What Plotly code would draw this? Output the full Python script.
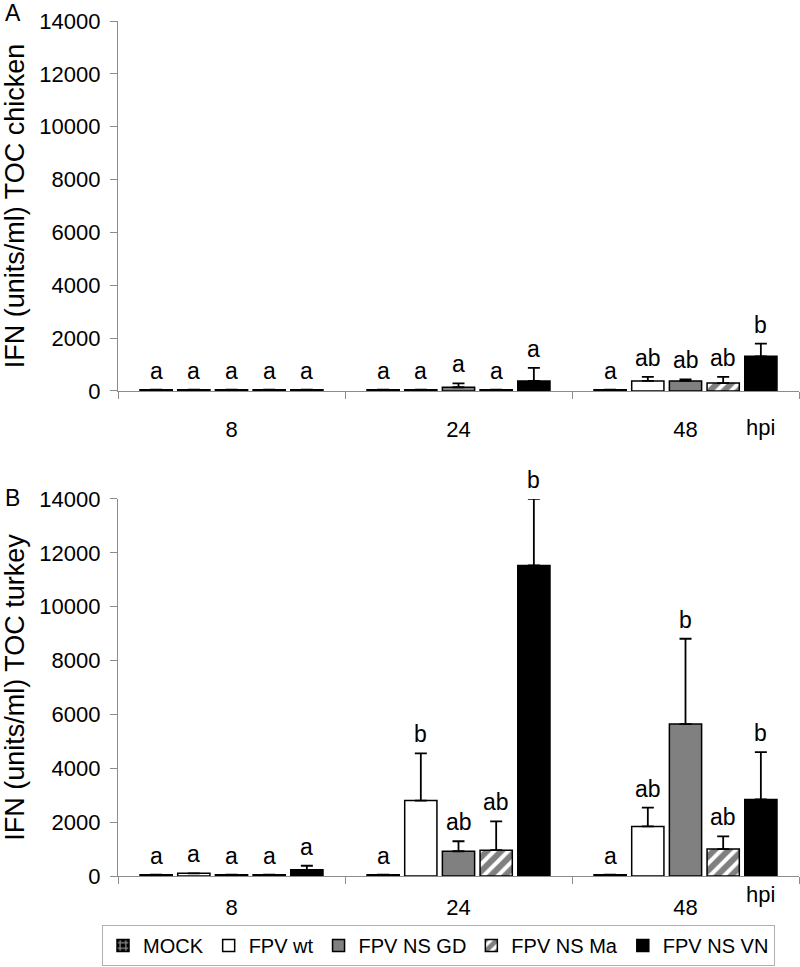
import plotly.graph_objects as go

# ---------------- data ----------------
hours = ["8", "24", "48"]
series = ["MOCK", "FPV wt", "FPV NS GD", "FPV NS Ma", "FPV NS VN"]

# Panel A: TOC chicken
chicken_mock = [50, 50, 50]
chicken_wt = [50, 50, 380]
chicken_gd = [50, 140, 380]
chicken_ma = [50, 50, 300]
chicken_vn = [50, 380, 1310]
chicken_mock_err = [0, 0, 0]
chicken_wt_err = [0, 0, 150]
chicken_gd_err = [0, 150, 60]
chicken_ma_err = [0, 0, 230]
chicken_vn_err = [0, 490, 480]
chicken_mock_lbl = ["a", "a", "a"]
chicken_wt_lbl = ["a", "a", "ab"]
chicken_gd_lbl = ["a", "a", "ab"]
chicken_ma_lbl = ["a", "a", "ab"]
chicken_vn_lbl = ["a", "a", "b"]

# Panel B: TOC turkey
turkey_mock = [50, 50, 50]
turkey_wt = [100, 2800, 1840]
turkey_gd = [50, 920, 5640]
turkey_ma = [50, 960, 1000]
turkey_vn = [230, 11530, 2840]
turkey_mock_err = [0, 0, 0]
turkey_wt_err = [0, 1750, 700]
turkey_gd_err = [0, 370, 3170]
turkey_ma_err = [0, 1070, 470]
turkey_vn_err = [150, 2470, 1760]
turkey_mock_lbl = ["a", "a", "a"]
turkey_wt_lbl = ["a", "b", "ab"]
turkey_gd_lbl = ["a", "ab", "b"]
turkey_ma_lbl = ["a", "ab", "ab"]
turkey_vn_lbl = ["a", "b", "b"]

y_ticks = [0, 2000, 4000, 6000, 8000, 10000, 12000, 14000]

# ---------------- style ----------------
FONT = "Liberation Sans, Arial, sans-serif"
FS = 22
SPACING = 0.166
BAR_W = 0.142
AXIS_COL = "#8c8c8c"

styles = [
    dict(color="black", pattern=dict(shape="+", fgcolor="white", bgcolor="black", size=7, solidity=0.45)),
    dict(color="white"),
    dict(color="#808080"),
    dict(color="white", pattern=dict(shape="/", fgcolor="black", bgcolor="white", size=10, solidity=0.6)),
    dict(color="black"),
]

panels = [
    dict(vals=[chicken_mock, chicken_wt, chicken_gd, chicken_ma, chicken_vn],
         errs=[chicken_mock_err, chicken_wt_err, chicken_gd_err, chicken_ma_err, chicken_vn_err],
         lbls=[chicken_mock_lbl, chicken_wt_lbl, chicken_gd_lbl, chicken_ma_lbl, chicken_vn_lbl],
         xa="x", ya="y", hpi_shift=-37),
    dict(vals=[turkey_mock, turkey_wt, turkey_gd, turkey_ma, turkey_vn],
         errs=[turkey_mock_err, turkey_wt_err, turkey_gd_err, turkey_ma_err, turkey_vn_err],
         lbls=[turkey_mock_lbl, turkey_wt_lbl, turkey_gd_lbl, turkey_ma_lbl, turkey_vn_lbl],
         xa="x2", ya="y2", hpi_shift=-18),
]

fig = go.Figure()
annotations = []
for pi, p in enumerate(panels):
    for k, name in enumerate(series):
        xs = [g + (k - 2) * SPACING for g in range(len(hours))]
        m = dict(styles[k])
        m["line"] = dict(color="black", width=1.5)
        fig.add_trace(go.Bar(
            x=xs, y=p["vals"][k], width=BAR_W, name=name, marker=m,
            legendgroup=name, showlegend=(pi == 1),
            error_y=dict(type="data", array=p["errs"][k], symmetric=False,
                         arrayminus=[0] * len(hours), color="black", thickness=1.8, width=6),
            xaxis=p["xa"], yaxis=p["ya"], hoverinfo="skip",
        ))
        for g in range(len(hours)):
            annotations.append(dict(
                x=xs[g], y=p["vals"][k][g] + p["errs"][k][g], xref=p["xa"], yref=p["ya"],
                text=p["lbls"][k][g], showarrow=False, yanchor="bottom", yshift=4,
                font=dict(family=FONT, size=23, color="black"),
            ))
    # "hpi" unit label under the last bar of the last group
    annotations.append(dict(x=len(hours) - 1 + 2 * SPACING, y=0, xref=p["xa"], yref=p["ya"],
                            text="hpi", showarrow=False, yanchor="middle", yshift=p["hpi_shift"],
                            font=dict(family=FONT, size=FS, color="black")))

# panel letters
annotations.append(dict(x=-0.169, y=1.0094, xref="paper", yref="paper", text="A", showarrow=False,
                        xanchor="left", yanchor="middle", font=dict(family=FONT, size=23, color="black")))
annotations.append(dict(x=-0.169, y=0.442, xref="paper", yref="paper", text="B", showarrow=False,
                        xanchor="left", yanchor="middle", font=dict(family=FONT, size=23, color="black")))

xaxis_common = dict(
    range=[-0.5, 2.5], tickvals=[0, 1, 2], ticktext=hours, ticks="",
    showline=True, linecolor=AXIS_COL, linewidth=1.2, showgrid=False, zeroline=False,
    tickfont=dict(family=FONT, size=FS, color="black"),
    minor=dict(tickvals=[-0.5, 0.5, 1.5, 2.5], ticks="outside", ticklen=7, tickcolor=AXIS_COL, tickwidth=1.2),
    fixedrange=True, automargin=False,
)
yaxis_common = dict(
    range=[0, 14000], tickvals=y_ticks, tickformat="d", ticks="outside", ticklen=7,
    tickcolor=AXIS_COL, tickwidth=1.2,
    showline=True, linecolor=AXIS_COL, linewidth=1.2, showgrid=False, zeroline=False,
    tickfont=dict(family=FONT, size=FS, color="black"), ticklabelstandoff=5,
    title_font=dict(family=FONT, size=27, color="black"), title_standoff=33, automargin=False,
    fixedrange=True,
)

fig.update_layout(
    width=800, height=967,
    margin=dict(l=118, r=1, t=21, b=91, autoexpand=False),
    paper_bgcolor="white", plot_bgcolor="white",
    barmode="overlay",
    font=dict(family=FONT, size=FS, color="black"),
    xaxis=dict(xaxis_common, domain=[0, 1], anchor="y", ticklabelstandoff=19),
    yaxis=dict(yaxis_common, domain=[0.5673, 1], anchor="x", title_text="IFN (units/ml) TOC chicken"),
    xaxis2=dict(xaxis_common, domain=[0, 1], anchor="y2", ticklabelstandoff=11),
    yaxis2=dict(yaxis_common, domain=[0, 0.441], anchor="x2", title_text="IFN (units/ml) TOC turkey"),
    annotations=annotations,
    showlegend=True,
    legend=dict(orientation="h", xref="paper", yref="paper", x=-0.0235, y=-0.0573,
                xanchor="left", yanchor="top", bordercolor="#b0b0b0", borderwidth=1,
                font=dict(family=FONT, size=20, color="black"), itemwidth=30, tracegroupgap=0,
                traceorder="normal"),
)

fig.write_html("out.html", config={"displayModeBar": False},
               post_script="document.body.style.margin='0';")
